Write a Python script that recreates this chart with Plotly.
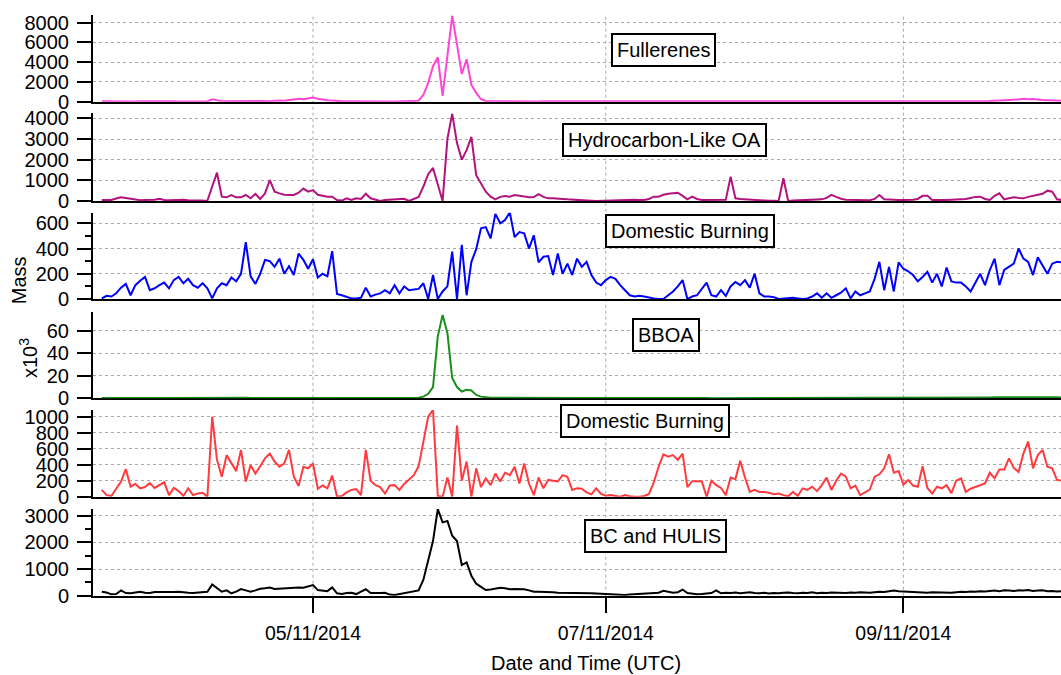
import plotly.graph_objects as go
import pandas as pd

# ---------------- data (daily values starting 2014-03-28) ----------------
start_date = "2014-03-28"

fullerenes = [
    40, 30, 50, 40, 30, 60, 40, 30, 40, 50,
    40, 30, 40, 50, 30, 40, 30, 30, 40, 50,
    40, 30, 60, 250, 120, 60, 50, 60, 50, 80,
    60, 50, 60, 70, 80, 60, 100, 120, 90, 150,
    200, 300, 250, 350, 430, 300, 200, 150, 120, 60,
    40, 50, 40, 30, 40, 50, 40, 30, 30, 40,
    30, 30, 40, 30, 40, 50, 100, 700, 1900, 3600,
    4500, 600, 4600, 8700, 5800, 2800, 4300, 1700, 900, 250,
    70, 60, 80, 100, 60, 50, 80, 50, 40, 50,
    40, 30, 40, 40, 30, 30, 40, 30, 30, 30,
    20, 30, 40, 30, 20, 30, 40, 30, 50, 40,
    30, 20, 30, 40, 50, 60, 40, 30, 20, 30,
    40, 30, 50, 40, 30, 20, 30, 40, 30, 60,
    50, 40, 30, 50, 40, 30, 30, 40, 50, 40,
    30, 40, 30, 30, 40, 60, 50, 40, 30, 30,
    40, 30, 30, 40, 50, 40, 30, 40, 30, 30,
    40, 50, 40, 30, 40, 50, 40, 30, 40, 50,
    40, 30, 40, 50, 40, 30, 40, 50, 60, 50,
    40, 50, 60, 50, 70, 80, 100, 120, 150, 200,
    250, 220, 300, 250, 280, 200, 180, 150, 120, 100,
    90,
]

hoa = [
    50, 50, 50, 120, 180, 145, 100, 50, 40, 50,
    40, 60, 110, 50, 40, 50, 80, 60, 40, 50,
    30, 20, 15, 700, 1370, 210, 180, 290, 180, 180,
    290, 130, 340, 100, 370, 1010, 450, 370, 300, 290,
    290, 400, 600, 450, 530, 300, 250, 210, 210, 50,
    20, 130, 50, 130, 100, 350, 130, 50, 0, 50,
    60, 80, 100, 110, 0, 100, 200, 700, 1300, 1600,
    850, 0, 3000, 4230, 2800, 2000, 2460, 3100, 1250, 850,
    450, 210, 80, 200, 240, 210, 290, 250, 210, 180,
    190, 330, 200, 130, 130, 130, 100, 80, 60, 50,
    40, 20, 10, 0, 10, 0, 20, 40, 50, 50,
    50, 60, 50, 50, 100, 210, 210, 300, 350, 370,
    400, 250, 80, 210, 100, 50, 50, 50, 50, 50,
    60, 1180, 130, 100, 80, 60, 40, 20, 0, 10,
    10, 0, 1100, 0, 20, 30, 50, 50, 60, 80,
    80, 150, 300, 200, 110, 60, 50, 50, 50, 50,
    40, 100, 290, 80, 60, 50, 50, 50, 50, 60,
    100, 250, 250, 50, 50, 40, 50, 60, 70, 80,
    100, 150, 200, 210, 100, 50, 250, 370, 80, 130,
    180, 150, 130, 200, 240, 300, 350, 500, 450, 80,
    50,
]

domestic_burning_1 = [
    5, 25, 20, 45, 90, 120, 30, 110, 145, 175,
    70, 85, 110, 130, 85, 150, 175, 125, 160, 110,
    90, 125, 85, 5, 85, 125, 110, 170, 140, 200,
    450, 180, 120, 200, 310, 300, 255, 320, 200, 260,
    190, 360, 310, 240, 315, 170, 200, 180, 380, 40,
    30, 20, 5, 5, 10, 90, 20, 35, 45, 70,
    45, 110, 45, 100, 70, 75, 80, 125, 0, 190,
    0, 60, 100, 375, 0, 430, 30, 295, 395, 560,
    570, 480, 675, 600, 625, 685, 490, 530, 520, 400,
    505, 290, 335, 340, 190, 360, 200, 280, 190, 320,
    255, 295, 190, 130, 110, 150, 175, 160, 110, 70,
    30, 20, 25, 20, 10, 5, 0, 0, 30, 60,
    100, 150, 0, 20, 30, 80, 130, 30, 20, 70,
    25, 100, 135, 110, 150, 90, 200, 45, 20, 20,
    15, 0, 5, 10, 10, 5, 0, 5, 20, 45,
    10, 45, 10, 30, 50, 85, 5, 60, 30, 45,
    60, 160, 295, 70, 255, 60, 290, 240, 220, 190,
    140, 175, 215, 130, 200, 100, 250, 140, 130, 130,
    100, 60, 125, 200, 110, 230, 320, 110, 230, 255,
    280, 400, 320, 295, 190, 330, 260, 200, 280, 295,
    290,
]

bboa = [
    300, 250, 300, 200, 250, 300, 350, 300, 250, 300,
    250, 300, 300, 250, 300, 350, 300, 250, 300, 300,
    250, 300, 300, 400, 350, 300, 300, 350, 300, 350,
    400, 350, 350, 400, 400, 350, 400, 450, 500, 500,
    550, 650, 800, 900, 800, 600, 500, 450, 400, 350,
    300, 300, 250, 300, 250, 300, 250, 250, 300, 250,
    250, 300, 250, 250, 300, 350, 500, 1500, 4000, 10000,
    55000, 74000, 58000, 18000, 10000, 6000, 7500, 7000, 3000, 1500,
    800, 600, 500, 450, 400, 400, 350, 350, 300, 300,
    300, 250, 250, 300, 250, 250, 200, 250, 200, 200,
    200, 200, 150, 200, 200, 150, 150, 200, 150, 150,
    150, 150, 200, 150, 200, 250, 300, 300, 250, 250,
    250, 200, 200, 200, 150, 150, 200, 150, 150, 150,
    200, 200, 150, 150, 150, 150, 150, 150, 150, 150,
    150, 150, 200, 150, 150, 150, 200, 200, 200, 250,
    250, 300, 300, 250, 300, 300, 350, 350, 400, 400,
    450, 500, 600, 700, 600, 500, 500, 450, 400, 400,
    400, 450, 400, 400, 450, 500, 500, 450, 500, 550,
    600, 600, 650, 700, 700, 800, 850, 900, 1000, 1000,
    1100, 1100, 1000, 1000, 1100, 1000, 950, 900, 900, 850,
    800,
]

domestic_burning_2 = [
    85, 20, 10, 100, 190, 345, 125, 160, 105, 120,
    170, 110, 140, 180, 20, 110, 70, 10, 105, 20,
    40, 50, 0, 1000, 460, 250, 520, 415, 320, 585,
    190, 395, 290, 380, 480, 540, 440, 375, 415, 585,
    250, 135, 375, 355, 415, 100, 140, 105, 265, 0,
    10, 55, 85, 95, 20, 585, 200, 145, 120, 40,
    140, 145, 85, 160, 215, 270, 380, 700, 1000, 1085,
    10, 0, 240, 0, 890, 200, 440, 0, 355, 120,
    230, 145, 290, 190, 300, 270, 375, 165, 415, 165,
    20, 240, 105, 210, 200, 190, 270, 250, 85, 105,
    100, 55, 30, 105, 35, 12, 20, 10, 0, 20,
    5, 0, 0, 10, 35, 180, 375, 530, 500, 520,
    460, 540, 120, 195, 195, 195, 0, 200, 145, 110,
    20, 240, 220, 450, 240, 60, 85, 60, 60, 50,
    30, 40, 20, 5, 60, 10, 105, 85, 125, 70,
    145, 240, 85, 200, 290, 250, 105, 140, 20, 55,
    90, 250, 280, 355, 530, 300, 320, 150, 210, 140,
    125, 380, 110, 40, 125, 105, 145, 45, 200, 230,
    60, 100, 120, 145, 165, 300, 230, 340, 340, 480,
    360, 310, 540, 690, 355, 520, 585, 375, 355, 210,
    200,
]

bc_hulis = [
    150, 120, 50, 60, 200, 100, 90, 110, 150, 110,
    100, 140, 140, 120, 125, 140, 150, 120, 110, 100,
    110, 120, 150, 420, 300, 150, 200, 90, 150, 250,
    200, 150, 200, 260, 280, 310, 250, 260, 275, 300,
    310, 310, 300, 340, 400, 210, 190, 170, 310, 90,
    60, 100, 110, 60, 150, 240, 100, 90, 100, 110,
    40, 25, 60, 90, 120, 160, 200, 600, 1350, 2050,
    3250, 2750, 2800, 2250, 2050, 1150, 1250, 750, 450, 320,
    210, 230, 260, 300, 280, 240, 250, 240, 240, 200,
    150, 150, 150, 140, 130, 110, 110, 110, 110, 110,
    100, 95, 90, 80, 70, 60, 55, 40, 30, 25,
    40, 50, 60, 70, 90, 110, 110, 180, 140, 110,
    130, 230, 100, 80, 50, 60, 80, 100, 200, 90,
    110, 100, 120, 90, 110, 130, 100, 90, 110, 80,
    100, 90, 110, 120, 100, 90, 110, 100, 130, 90,
    110, 100, 120, 110, 90, 100, 120, 110, 130, 120,
    110, 130, 150, 140, 160, 190, 170, 160, 150, 130,
    140, 120, 110, 130, 120, 110, 100, 110, 130, 150,
    140, 160, 150, 170, 160, 180, 190, 170, 200, 190,
    180, 200, 190, 210, 180, 190, 200, 170, 180, 160,
    170,
]

x_tick_vals = ["2014-05-11", "2014-07-11", "2014-09-11"]
x_tick_text = ["05/11/2014", "07/11/2014", "09/11/2014"]
panel_labels = ["Fullerenes", "Hydrocarbon-Like OA", "Domestic Burning",
                "BBOA", "Domestic Burning", "BC and HULIS"]

# ---------------- figure ----------------
dates = pd.date_range(start_date, periods=len(fullerenes), freq="D")
x_range = ["2014-03-26 04:00", "2014-10-13 20:00"]
FONT = "Liberation Sans, Arial, sans-serif"
GRID = "#a8a8a8"

panels = [
    dict(vals=fullerenes, color="#ff45d6", rng=[0, 8780],
         ticks=[0, 2000, 4000, 6000, 8000], ttext=None, minor=None,
         dom=[0.8493, 0.9778], lab=(0.5894, 0.9252)),
    dict(vals=hoa, color="#b3137c", rng=[0, 4242],
         ticks=[0, 1000, 2000, 3000, 4000], ttext=None, minor=None,
         dom=[0.7022, 0.8321], lab=(0.5899, 0.7926)),
    dict(vals=domestic_burning_1, color="#0000ff", rng=[0, 684],
         ticks=[0, 200, 400, 600], ttext=None, minor=[100, 300, 500],
         dom=[0.5570, 0.6849], lab=(0.6172, 0.6585)),
    dict(vals=bboa, color="#1a8f1a", rng=[0, 76900],
         ticks=[0, 20000, 40000, 60000], ttext=["0", "20", "40", "60"], minor=None,
         dom=[0.4099, 0.5382], lab=(0.5919, 0.5030)),
    dict(vals=domestic_burning_2, color="#ff3b3f", rng=[0, 1084],
         ticks=[0, 200, 400, 600, 800, 1000], ttext=None, minor=None,
         dom=[0.2641, 0.3926], lab=(0.5702, 0.3763)),
    dict(vals=bc_hulis, color="#000000", rng=[0, 3251],
         ticks=[0, 1000, 2000, 3000], ttext=None, minor=[500, 1500, 2500],
         dom=[0.1175, 0.2459], lab=(0.5811, 0.2059)),
]

fig = go.Figure()
layout = dict(
    width=1061, height=675, autosize=False,
    margin=dict(l=93, r=0, t=0, b=0, autoexpand=False),
    paper_bgcolor="white", plot_bgcolor="white",
    showlegend=False, hovermode=False,
    font=dict(family=FONT, size=20, color="black"),
)
annotations = []
n = len(panels)
for k, p in enumerate(panels, start=1):
    suffix = "" if k == 1 else str(k)
    fig.add_trace(go.Scatter(
        x=dates, y=p["vals"], mode="lines",
        line=dict(color=p["color"], width=2),
        xaxis="x" + suffix, yaxis="y" + suffix, hoverinfo="skip"))
    bottom = (k == n)
    xa = dict(domain=[0, 1], range=x_range, type="date", anchor="y" + suffix,
              automargin=False,
              showline=True, linecolor="black", linewidth=2, mirror=False,
              showgrid=False, zeroline=False, layer="below traces",
              tickvals=x_tick_vals, ticktext=x_tick_text,
              ticks="outside" if bottom else "", ticklen=15, tickwidth=2,
              tickcolor="black", showticklabels=bottom,
              tickfont=dict(family=FONT, size=19.5, color="black"),
              ticklabelstandoff=4)
    if k > 1:
        xa["matches"] = "x"
    ya = dict(domain=p["dom"], range=p["rng"], anchor="x" + suffix,
              automargin=False,
              showline=True, linecolor="black", linewidth=2,
              ticks="outside", ticklen=14, tickwidth=2, tickcolor="black",
              tickvals=p["ticks"], showgrid=True, gridcolor=GRID,
              griddash="dot", gridwidth=1, zeroline=False,
              tickfont=dict(family=FONT, size=20, color="black"),
              ticklabelstandoff=4)
    if p["ttext"] is not None:
        ya["ticktext"] = p["ttext"]
    if p["minor"] is not None:
        ya["minor"] = dict(tickvals=p["minor"], ticks="outside", ticklen=6,
                           tickwidth=2, tickcolor="black", showgrid=False)
    layout["xaxis" + suffix] = xa
    layout["yaxis" + suffix] = ya
    annotations.append(dict(
        text=panel_labels[k - 1], xref="paper", yref="paper",
        x=p["lab"][0], y=p["lab"][1], xanchor="center", yanchor="middle",
        showarrow=False, bgcolor="white", bordercolor="black",
        borderwidth=2, borderpad=4,
        font=dict(family=FONT, size=20, color="black")))

annotations.append(dict(text="Date and Time (UTC)", xref="paper", yref="paper",
                        x=0.509, y=0.0178, xanchor="center", yanchor="middle",
                        showarrow=False, font=dict(family=FONT, size=20, color="black")))
annotations.append(dict(text="Mass", xref="paper", yref="paper",
                        x=-0.0764, y=0.585, xanchor="center", yanchor="middle",
                        textangle=-90, showarrow=False,
                        font=dict(family=FONT, size=20, color="black")))
annotations.append(dict(text="x10<sup>3</sup>", xref="paper", yref="paper",
                        x=-0.0671, y=0.4696, xanchor="center", yanchor="middle",
                        textangle=-90, showarrow=False,
                        font=dict(family=FONT, size=20, color="black")))
layout["annotations"] = annotations

shapes = []
for t in x_tick_vals:
    shapes.append(dict(type="line", xref="x6", yref="paper", x0=t, x1=t,
                       y0=panels[-1]["dom"][0], y1=panels[0]["dom"][1],
                       line=dict(color=GRID, width=1, dash="dot"), layer="below"))
layout["shapes"] = shapes

fig.update_layout(**layout)
# remove the default page margin so the figure fills the window exactly
fig.write_html("out.html",
               config=dict(displayModeBar=False, staticPlot=True),
               post_script="document.body.style.margin='0';"
                           "document.documentElement.style.overflow='hidden';")
